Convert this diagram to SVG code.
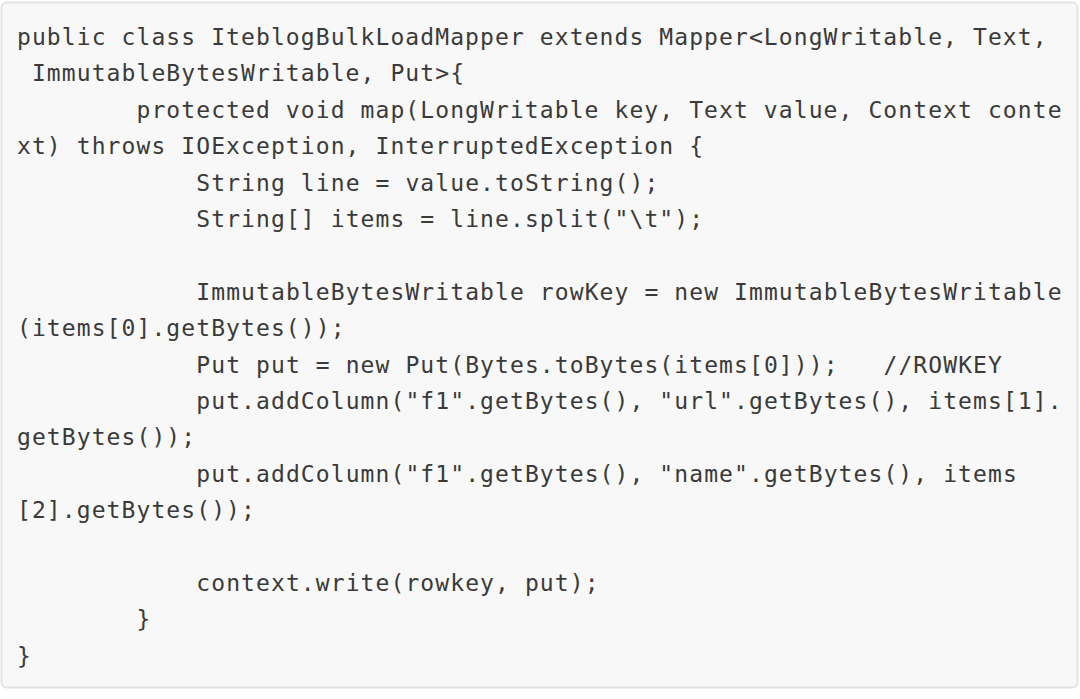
<svg xmlns="http://www.w3.org/2000/svg" width="1080" height="699" viewBox="0 0 1080 699">
<style>
.code{font-family:"DejaVu Sans Mono","Liberation Mono",monospace;font-size:23px;letter-spacing:1.09px;fill:#3a3a3a}
</style>
<rect width="1080" height="699" fill="#ffffff"/>
<rect id="codebox" x="1.5" y="2.5" width="1076" height="685" rx="5" fill="#f8f8f8" stroke="#e3e3e3" stroke-width="2"/>
<g id="code" class="code">
<text x="17" y="45">public class IteblogBulkLoadMapper extends Mapper&lt;LongWritable, Text,</text>
<text x="31.9" y="81.4">ImmutableBytesWritable, Put&gt;{</text>
<text x="136.5" y="117.8">protected void map(LongWritable key, Text value, Context conte</text>
<text x="17" y="154.2">xt) throws IOException, InterruptedException {</text>
<text x="196.3" y="190.6">String line = value.toString();</text>
<text x="196.3" y="227">String[] items = line.split("\t");</text>
<text x="196.3" y="299.8">ImmutableBytesWritable rowKey = new ImmutableBytesWritable</text>
<text x="17" y="336.2">(items[0].getBytes());</text>
<text x="196.3" y="372.6">Put put = new Put(Bytes.toBytes(items[0]));<tspan x="883.5">//ROWKEY</tspan></text>
<text x="196.3" y="409">put.addColumn("f1".getBytes(), "url".getBytes(), items[1].</text>
<text x="17" y="445.4">getBytes());</text>
<text x="196.3" y="481.8">put.addColumn("f1".getBytes(), "name".getBytes(), items</text>
<text x="17" y="518.2">[2].getBytes());</text>
<text x="196.3" y="591">context.write(rowkey, put);</text>
<text x="136.5" y="627.4">}</text>
<text x="17" y="663.8">}</text>
</g>
</svg>
